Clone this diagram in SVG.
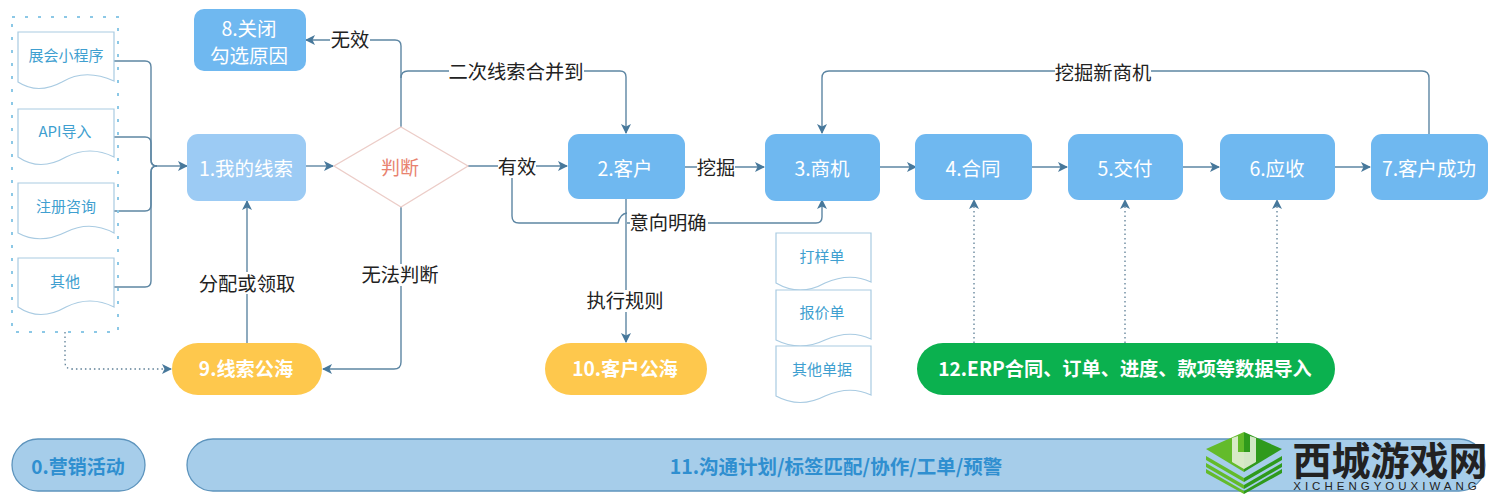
<svg xmlns="http://www.w3.org/2000/svg" width="1501" height="500" viewBox="0 0 1501 500">
<style>
text{font-family:"Noto Sans CJK SC","Liberation Sans",sans-serif;text-anchor:middle;dominant-baseline:central}
.n{fill:#6fb8f0}
.t{fill:#fff;font-size:19.5px}
.b{fill:#fff;font-size:19.2px;font-weight:700}
.l{fill:#222;font-size:19.3px}
.d{fill:#fff;stroke:#a9cbe2;stroke-width:1.2}
.dt{fill:#3f9fd0;font-size:15px}
.c{fill:none;stroke:#5d86a3;stroke-width:1.4}
.dot{fill:none;stroke:#5d7f96;stroke-width:1.3;stroke-dasharray:1.5 3}
.lb{fill:#fff}
.g1{fill:#63bb2b}
.g2{fill:#2f9a1c}
</style>
<defs>
<marker id="a" markerWidth="11" markerHeight="11" refX="9" refY="5" orient="auto" markerUnits="userSpaceOnUse"><path d="M0 0L10 5L0 10L2.5 5Z" fill="#47789b"/></marker>
</defs>
<g id="connectors">
<path class="c" d="M114 61H145Q151 61 151 67V160Q151 166 157 166" />
<path class="c" d="M114 137H145Q151 137 151 143V160Q151 166 157 166" />
<path class="c" d="M114 211H145Q151 211 151 205V172Q151 166 157 166" />
<path class="c" d="M114 287H145Q151 287 151 281V172Q151 166 157 166" />
<path class="c" d="M157 166H187" marker-end="url(#a)"/>
<path class="c" d="M306 166H333" marker-end="url(#a)"/>
<path class="c" d="M401 127V46Q401 40 395 40H306" marker-end="url(#a)"/>
<path class="c" d="M401 78Q401 71 408 71H620Q626 71 626 77V133" marker-end="url(#a)"/>
<path class="c" d="M468 166H567" marker-end="url(#a)"/>
<path class="c" d="M512 166V216Q512 223 519 223H618Q620 214 627 213" />
<path class="c" d="M627 223H816Q822 223 822 217V200" marker-end="url(#a)"/>
<path class="c" d="M626 199V342" marker-end="url(#a)"/>
<path class="c" d="M685 167H764" marker-end="url(#a)"/>
<path class="c" d="M880 167H916" marker-end="url(#a)"/>
<path class="c" d="M1032 167H1067" marker-end="url(#a)"/>
<path class="c" d="M1183 167H1219" marker-end="url(#a)"/>
<path class="c" d="M1335 167H1370" marker-end="url(#a)"/>
<path class="c" d="M1429 134V78Q1429 71 1422 71H829Q822 71 822 78V133" marker-end="url(#a)"/>
<path class="c" d="M401 207V362Q401 369 394 369H323" marker-end="url(#a)"/>
<path class="c" d="M247 343V201" marker-end="url(#a)"/>
<path class="dot" d="M65 332V362Q65 369 72 369H171" marker-end="url(#a)"/>
<path class="dot" d="M974 343V200" marker-end="url(#a)"/>
<path class="dot" d="M1125 343V200" marker-end="url(#a)"/>
<path class="dot" d="M1277 343V200" marker-end="url(#a)"/>
</g>
<g id="labels">
<rect class="lb" x="330" y="29" width="40" height="22"/><text class="l" x="350" y="39">无效</text>
<rect class="lb" x="449" y="61" width="135" height="22"/><text class="l" x="516" y="71">二次线索合并到</text>
<rect class="lb" x="498" y="156" width="38" height="22"/><text class="l" x="517" y="166">有效</text>
<rect class="lb" x="697" y="156" width="38" height="22"/><text class="l" x="716" y="167">挖掘</text>
<rect class="lb" x="630" y="212" width="78" height="22"/><text class="l" x="668" y="222">意向明确</text>
<rect class="lb" x="587" y="290" width="76" height="22"/><text class="l" x="625" y="300">执行规则</text>
<rect class="lb" x="198" y="272" width="98" height="22"/><text class="l" x="247" y="283">分配或领取</text>
<rect class="lb" x="361" y="264" width="78" height="22"/><text class="l" x="400" y="274">无法判断</text>
<rect class="lb" x="1055" y="61" width="96" height="22"/><text class="l" x="1103" y="72">挖掘新商机</text>
</g>
<g id="group0"><rect x="12" y="17" width="106" height="315" fill="none" stroke="#8cc8e6" stroke-width="2" stroke-dasharray="3 10"/></g>
<g id="doc1"><path class="d" d="M18 32H114V81Q85 68 62 82Q38 95 18 82Z"/><text class="dt" x="66" y="54">展会小程序</text></g>
<g id="doc2"><path class="d" d="M18 109H114V157Q90 145 66 157Q40 172 18 157Z"/><text class="dt" x="65" y="130">API导入</text></g>
<g id="doc3"><path class="d" d="M18 183H114V233Q90 220 66 232Q40 245 18 233Z"/><text class="dt" x="66" y="205">注册咨询</text></g>
<g id="doc4"><path class="d" d="M18 258H114V307Q90 295 66 307Q40 322 18 307Z"/><text class="dt" x="65" y="280">其他</text></g>
<g id="n8"><rect class="n" x="194" y="9" width="112" height="62" rx="10"/><text class="t" x="249" y="27">8.关闭</text><text class="t" x="249" y="54">勾选原因</text></g>
<g id="n1"><rect x="187" y="134" width="119" height="67" rx="11" fill="#9ccbf4"/><text class="t" x="246" y="167">1.我的线索</text></g>
<g id="decision"><path d="M401 127L468 166L401 207L334 166Z" fill="#fff" stroke="#eccdc8" stroke-width="1.3"/><text x="400" y="166" font-size="19" fill="#e8826f">判断</text></g>
<g id="n2"><rect class="n" x="568" y="134" width="117" height="65" rx="11"/><text class="t" x="625" y="167">2.客户</text></g>
<g id="n3"><rect class="n" x="765" y="134" width="115" height="67" rx="11"/><text class="t" x="822" y="167">3.商机</text></g>
<g id="n4"><rect class="n" x="915" y="134" width="117" height="66" rx="11"/><text class="t" x="973" y="167">4.合同</text></g>
<g id="n5"><rect class="n" x="1068" y="134" width="115" height="66" rx="11"/><text class="t" x="1125" y="167">5.交付</text></g>
<g id="n6"><rect class="n" x="1220" y="134" width="115" height="66" rx="11"/><text class="t" x="1277" y="167">6.应收</text></g>
<g id="n7"><rect class="n" x="1371" y="134" width="117" height="66" rx="11"/><text class="t" x="1429" y="167">7.客户成功</text></g>
<g id="n9"><rect x="172" y="343" width="150" height="52" rx="26" fill="#fec84d"/><text class="b" x="246" y="368">9.线索公海</text></g>
<g id="n10"><rect x="545" y="343" width="162" height="52" rx="26" fill="#fec84d"/><text class="b" x="625" y="368">10.客户公海</text></g>
<g id="n12"><rect x="917" y="343" width="418" height="52" rx="26" fill="#0bb14f"/><text class="b" x="1125" y="368">12.ERP合同、订单、进度、款项等数据导入</text></g>
<g id="doc5"><path class="d" d="M776 233H871V282Q850 272 825 283Q800 297 776 283Z"/><text class="dt" x="822" y="255">打样单</text></g>
<g id="doc6"><path class="d" d="M776 290H871V339Q850 329 825 340Q800 352 776 340Z"/><text class="dt" x="822" y="311">报价单</text></g>
<g id="doc7"><path class="d" d="M776 346H871V395Q850 385 825 396Q800 409 776 396Z"/><text class="dt" x="822" y="368">其他单据</text></g>
<g id="n0"><rect x="12" y="439" width="133" height="52" rx="26" fill="#a6cdea" stroke="#5d94bd" stroke-width="1.3"/><text x="78" y="465" font-size="19" font-weight="700" fill="#2f8fd0">0.营销活动</text></g>
<g id="n11"><rect x="187" y="439" width="1298" height="52" rx="26" fill="#a6cdea" stroke="#5d94bd" stroke-width="1.3"/><text x="836" y="465" font-size="19.5" font-weight="700" fill="#2f8fd0">11.沟通计划/标签匹配/协作/工单/预警</text></g>
<g id="watermark">
<path class="g1" d="M1206 456L1244 478V482L1206 460Z"/><path class="g2" d="M1282 456L1244 478V482L1282 460Z"/>
<path class="g1" d="M1206 463L1244 485V489L1206 467Z"/><path class="g2" d="M1282 463L1244 485V489L1282 467Z"/>
<path class="g1" d="M1206 469L1244 491V494L1206 473Z"/><path class="g2" d="M1282 469L1244 491V494L1282 473Z"/>
<path class="g1" d="M1206 449L1244 432V472Z"/>
<path class="g2" d="M1282 449L1244 432V472Z"/>
<path d="M1232 438V462L1244 469L1256 462V438L1250 436V452H1238V436Z" fill="#e4efd8" opacity=".9"/>
<text x="1390" y="458" font-size="39" font-weight="700" fill="#222">西城游戏网</text>
<text x="1387" y="486" font-size="11.5" fill="#222" letter-spacing="4" style="font-family:'Liberation Sans',sans-serif">XICHENGYOUXIWANG</text>
</g>
</svg>
